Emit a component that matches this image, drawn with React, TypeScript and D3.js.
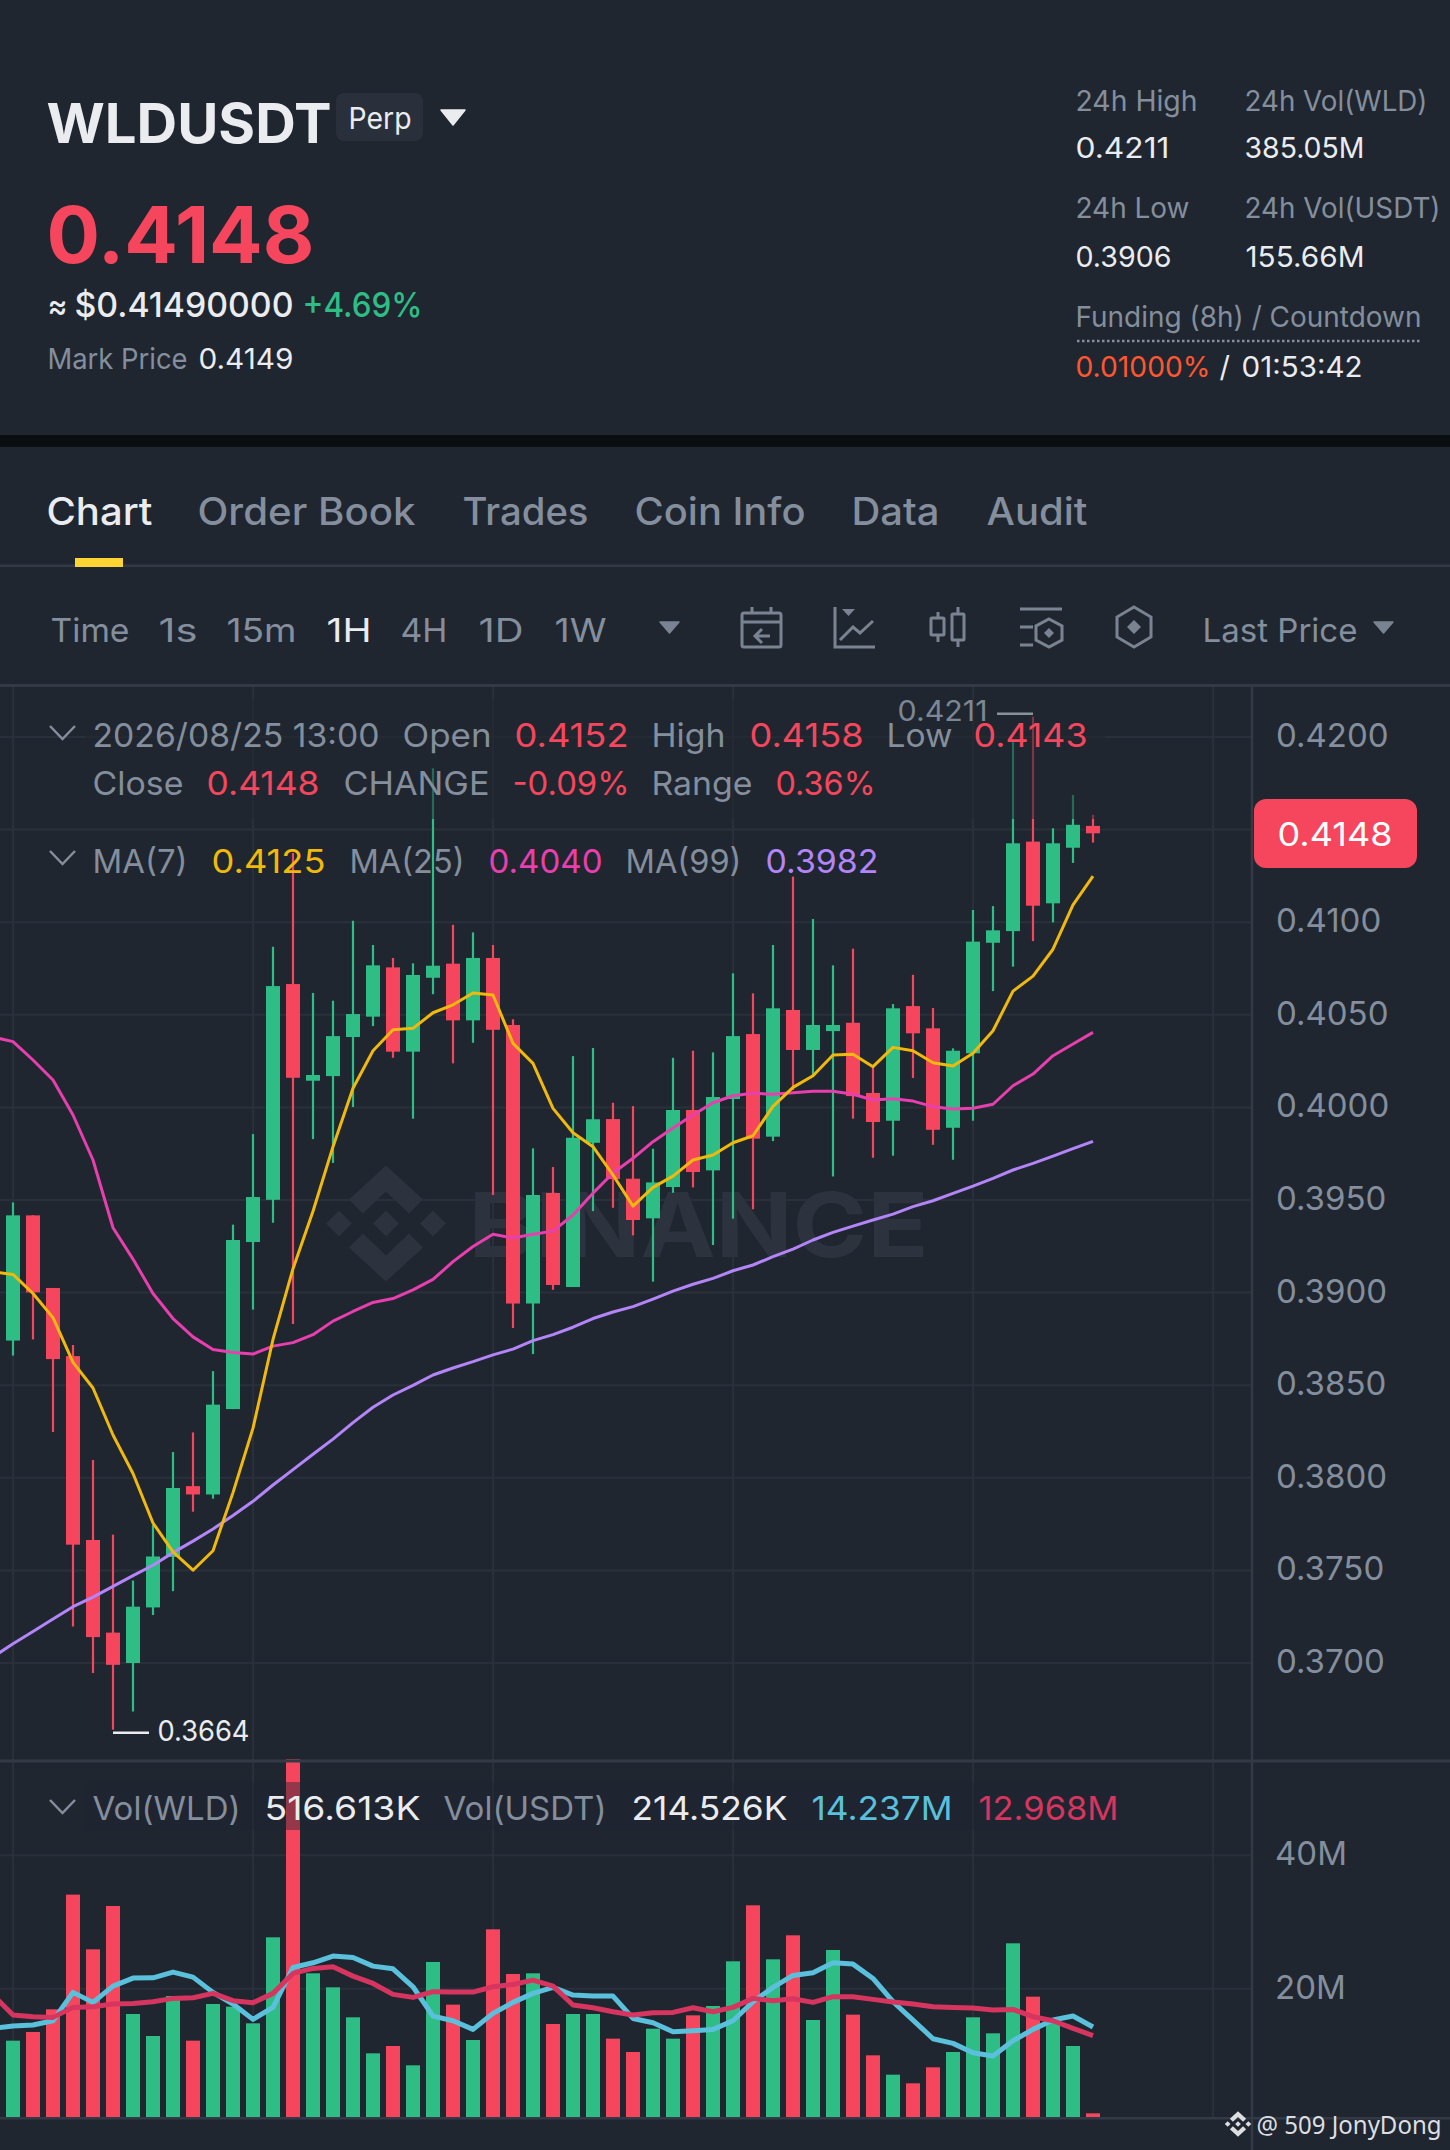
import React, { useEffect, useRef } from 'react';
import * as d3 from 'd3';

// 1h candles, oldest first
const opens = [0.38741, 0.39417, 0.39025, 0.38657, 0.37664, 0.37164, 0.37, 0.373, 0.37573, 0.37955, 0.3791, 0.38371, 0.39273, 0.39501, 0.40666, 0.40144, 0.40169, 0.4038, 0.4049, 0.40756, 0.40301, 0.407, 0.40776, 0.4047, 0.40807, 0.40445, 0.38941, 0.39538, 0.3903, 0.39809, 0.39937, 0.39615, 0.39401, 0.3957, 0.39986, 0.3966, 0.40045, 0.40396, 0.39842, 0.40526, 0.4031, 0.40412, 0.40457, 0.40078, 0.39928, 0.40547, 0.40427, 0.3989, 0.40292, 0.40889, 0.40952, 0.41435, 0.41102, 0.41402, 0.4152];
const highs = [0.39487, 0.39417, 0.39025, 0.38717, 0.38096, 0.37693, 0.37445, 0.37745, 0.38139, 0.38245, 0.38576, 0.39367, 0.39856, 0.40868, 0.41374, 0.40618, 0.40576, 0.41008, 0.40877, 0.40807, 0.40778, 0.41831, 0.40986, 0.40945, 0.40877, 0.40476, 0.39779, 0.39678, 0.40277, 0.40321, 0.40025, 0.40007, 0.39777, 0.40268, 0.40306, 0.40297, 0.40724, 0.40616, 0.40877, 0.41246, 0.41017, 0.40767, 0.40857, 0.4022, 0.40558, 0.40716, 0.40537, 0.40319, 0.41066, 0.41087, 0.41984, 0.4211, 0.41507, 0.41687, 0.4158];
const lows = [0.3866, 0.38747, 0.38247, 0.37197, 0.36946, 0.3664, 0.36738, 0.37259, 0.37388, 0.37817, 0.37887, 0.38371, 0.38908, 0.39377, 0.3883, 0.39829, 0.397, 0.40002, 0.40439, 0.40268, 0.39939, 0.40611, 0.40238, 0.40349, 0.39527, 0.38809, 0.38668, 0.39015, 0.3903, 0.3944, 0.39458, 0.39309, 0.39059, 0.39539, 0.39568, 0.39257, 0.39399, 0.3945, 0.39818, 0.40094, 0.40166, 0.39627, 0.39939, 0.39728, 0.39739, 0.40159, 0.39798, 0.39717, 0.39928, 0.40628, 0.4076, 0.40898, 0.40999, 0.4132, 0.4143];
const closes = [0.39417, 0.39001, 0.38641, 0.37639, 0.3714, 0.3699, 0.37304, 0.37575, 0.37945, 0.3791, 0.38395, 0.39284, 0.39516, 0.40655, 0.4016, 0.40175, 0.40385, 0.40504, 0.40767, 0.40301, 0.40715, 0.40765, 0.4047, 0.40807, 0.40419, 0.38941, 0.39527, 0.39041, 0.39836, 0.39936, 0.39613, 0.39392, 0.39595, 0.39986, 0.39651, 0.40056, 0.40385, 0.39831, 0.40535, 0.4031, 0.40445, 0.40445, 0.40061, 0.39921, 0.40535, 0.404, 0.39879, 0.40306, 0.40895, 0.40956, 0.41426, 0.41089, 0.41426, 0.41526, 0.4148];

// the moving averages start one candle earlier, just off the left edge
const ma7 = [0.39113, 0.39098, 0.38995, 0.38865, 0.38623, 0.38485, 0.38231, 0.38023, 0.37756, 0.376, 0.37501, 0.37606, 0.3792, 0.38268, 0.38747, 0.39129, 0.39439, 0.39788, 0.40103, 0.40306, 0.40419, 0.40427, 0.40511, 0.40554, 0.40618, 0.40607, 0.40346, 0.40238, 0.39995, 0.39863, 0.39788, 0.39635, 0.39467, 0.39568, 0.39629, 0.39716, 0.39743, 0.39809, 0.39847, 0.40006, 0.40108, 0.40171, 0.40283, 0.40287, 0.4022, 0.40324, 0.40306, 0.40241, 0.40223, 0.40292, 0.40414, 0.40628, 0.40709, 0.40854, 0.41093, 0.41249];
const ma25 = [0.4038, 0.40355, 0.40256, 0.40148, 0.39959, 0.39716, 0.3935, 0.39181, 0.38995, 0.3886, 0.38761, 0.38693, 0.38677, 0.38668, 0.38711, 0.3873, 0.38773, 0.38846, 0.38898, 0.38947, 0.38968, 0.39015, 0.39071, 0.39167, 0.39249, 0.39315, 0.39295, 0.39315, 0.39332, 0.39419, 0.39537, 0.39646, 0.39725, 0.39815, 0.39889, 0.39959, 0.40025, 0.40063, 0.40076, 0.40071, 0.40079, 0.40087, 0.40087, 0.40071, 0.4004, 0.40047, 0.40034, 0.40004, 0.39991, 0.39995, 0.40017, 0.40117, 0.4018, 0.40279, 0.40342, 0.40405];
const ma99 = [0.37032, 0.37104, 0.3717, 0.37238, 0.37304, 0.37356, 0.37414, 0.37472, 0.37528, 0.37596, 0.37658, 0.37724, 0.37796, 0.37873, 0.37961, 0.38044, 0.38127, 0.38209, 0.38298, 0.38381, 0.38447, 0.38499, 0.38555, 0.38593, 0.38627, 0.38664, 0.38695, 0.38741, 0.38773, 0.38813, 0.3886, 0.38895, 0.38924, 0.38965, 0.39008, 0.39045, 0.39077, 0.39118, 0.39149, 0.39194, 0.39235, 0.39284, 0.39325, 0.39359, 0.39392, 0.39424, 0.39464, 0.39496, 0.39536, 0.39575, 0.39617, 0.39662, 0.39698, 0.39737, 0.39777, 0.39817];

// volume, millions
const volumes = [12.2, 13.5, 16.9, 34.1, 25.9, 32.4, 16.2, 12.9, 18.9, 12.2, 17.7, 17.3, 14.8, 27.7, 54.4, 22.3, 20.2, 15.7, 10.3, 11.4, 8.5, 24.0, 17.6, 12.3, 28.9, 22.2, 22.3, 14.7, 16.2, 16.2, 12.5, 10.5, 14.0, 12.5, 16.0, 17.4, 24.1, 32.5, 24.4, 28.0, 15.3, 25.8, 16.1, 10.0, 7.1, 5.8, 8.2, 10.5, 15.7, 13.3, 26.8, 18.8, 15.0, 11.4, 1.3];
const volMaFast = [14.04, 14.39, 14.54, 15.19, 19.44, 17.94, 20.38, 21.58, 21.63, 22.48, 21.73, 19.44, 17.69, 15.39, 17.19, 23.18, 23.88, 24.88, 24.68, 23.38, 22.98, 20.28, 15.88, 15.19, 13.89, 16.29, 17.94, 19.29, 20.19, 19.04, 18.89, 18.89, 15.53, 14.89, 13.54, 13.69, 13.89, 15.19, 18.04, 20.19, 21.98, 22.38, 23.88, 23.68, 21.53, 18.04, 15.29, 12.49, 11.79, 10.39, 9.89, 12.19, 13.89, 15.29, 15.89, 14.24];
const volMaSlow = [19.04, 16.04, 15.79, 15.69, 17.19, 17.29, 17.69, 17.79, 18.04, 18.54, 18.64, 19.29, 18.19, 17.89, 19.29, 22.28, 23.03, 23.28, 21.88, 20.78, 19.14, 18.69, 19.54, 19.49, 19.49, 20.28, 20.63, 21.28, 20.38, 17.54, 17.14, 16.54, 16.04, 16.39, 16.44, 17.14, 16.54, 17.19, 18.54, 18.19, 18.49, 17.94, 18.79, 18.79, 18.39, 17.99, 17.69, 17.29, 17.19, 17.09, 16.79, 16.89, 15.79, 15.19, 14.04, 12.97];

const priceTicks = [0.42, 0.41, 0.405, 0.4, 0.395, 0.39, 0.385, 0.38, 0.375, 0.37];
const priceGrid = [0.42, 0.415, 0.41, 0.405, 0.4, 0.395, 0.39, 0.385, 0.38, 0.375, 0.37];
const volTicks = [40, 20];
const timeGrid = [0, 12, 24, 36, 48, 60];

const tabs = ['Chart', 'Order Book', 'Trades', 'Coin Info', 'Data', 'Audit'];
const intervals = ['Time', '1s', '15m', '1H', '4H', '1D', '1W'];

const BG = '#1f2630';
const UP = '#2ebd85';
const DOWN = '#f6465d';
const GRAY = '#848e9c';
const WHITE = '#eaecef';
const GRID = '#29303b';
const RULE = '#333a46';
const ICON = '#7a8391';
const FONT = 'Inter, sans-serif';

export default function App() {
    const ref = useRef<SVGSVGElement | null>(null);
    useEffect(() => {
        const svg = d3.select(ref.current);
        svg.selectAll('*').remove();
        const width = 1450, height = 2150, axisX = 1252, paneTop = 1761, paneBottom = 2117;

        const x = d3.scaleLinear().domain([0, 54]).range([13, 1093]);
        const y = d3.scaleLinear().domain([0.42, 0.37]).range([737, 1663]);
        const yVol = d3.scaleLinear().domain([0, 40]).range([2122, 1855.3]);

        // w is the measured ink width, side bearings are added on top of it
        const text = (tx: number, ty: number, str: string, size: number, fill: string, w?: number, weight = 400, anchor = 'start') => {
            const t = svg.append('text').attr('x', anchor === 'start' ? tx - 1.5 : tx).attr('y', ty).attr('font-size', size)
                .attr('font-weight', weight).attr('fill', fill).attr('text-anchor', anchor).text(str);
            if (w) t.attr('textLength', w + 3).attr('lengthAdjust', 'spacingAndGlyphs');
            return t;
        };
        const tri = (x0: number, x1: number, y0: number, y1: number, fill: string) => {
            svg.append('path').attr('d', `M${x0},${y0}L${x1},${y0}L${(x0 + x1) / 2},${y1}Z`)
                .attr('fill', fill).attr('stroke', fill).attr('stroke-width', 1.5).attr('stroke-linejoin', 'round');
        };
        const chevron = (cy: number) => {
            svg.append('path').attr('d', `M50,${cy - 6}L62.5,${cy + 7}L75,${cy - 6}`)
                .attr('fill', 'none').attr('stroke', GRAY).attr('stroke-width', 2.5);
        };
        const logo = (parent: any, cx: number, cy: number, k: number, fill: string) => {
            const g = parent.append('g').attr('transform', `translate(${cx},${cy}) scale(${k})`).attr('fill', fill);
            g.append('path').attr('d', 'M0,-58L37,-24L23,-10L0,-32L-23,-10L-37,-24Z');
            g.append('path').attr('d', 'M0,58L37,24L23,10L0,32L-23,10L-37,24Z');
            g.append('path').attr('d', 'M0,-13L13,0L0,13L-13,0Z');
            g.append('path').attr('d', 'M-47,-13L-34,0L-47,13L-60,0Z');
            g.append('path').attr('d', 'M47,-13L60,0L47,13L34,0Z');
        };

        svg.attr('viewBox', `0 0 ${width} ${height}`).attr('font-family', FONT);
        svg.append('rect').attr('width', width).attr('height', height).attr('fill', BG);
        svg.append('rect').attr('y', 435).attr('width', width).attr('height', 12).attr('fill', '#0b0e11');

        // header left
        text(48, 143, 'WLDUSDT', 55, WHITE, 282, 700);
        svg.append('rect').attr('x', 336).attr('y', 93).attr('width', 87).attr('height', 48).attr('rx', 8).attr('fill', '#2a303b');
        text(350, 129, 'Perp', 30, WHITE, 60);
        tri(441, 465, 110, 125, WHITE);
        text(48, 263, '0.4148', 79, DOWN, 265, 700);
        text(49, 317, '≈', 33, WHITE, 17, 500);
        text(76, 317, '$0.41490000', 34, WHITE, 216, 500);
        text(304, 317, '+4.69%', 34, UP, 117, 500);
        text(49, 369, 'Mark Price', 29, GRAY, 137);
        text(200, 369, '0.4149', 29, WHITE, 92);

        // header right
        text(1077, 111, '24h High', 29, GRAY, 119);
        text(1246, 111, '24h Vol(WLD)', 29, GRAY, 180);
        text(1077, 158, '0.4211', 29, WHITE, 91);
        text(1246, 158, '385.05M', 29, WHITE, 117);
        text(1077, 218, '24h Low', 29, GRAY, 111);
        text(1246, 218, '24h Vol(USDT)', 29, GRAY, 193);
        text(1077, 267, '0.3906', 29, WHITE, 93);
        text(1247, 267, '155.66M', 29, WHITE, 116);
        text(1077, 327, 'Funding (8h) / Countdown', 29, GRAY, 343);
        svg.append('line').attr('x1', 1077).attr('x2', 1422).attr('y1', 341).attr('y2', 341)
            .attr('stroke', GRAY).attr('stroke-width', 2.5).attr('stroke-dasharray', '2.5 2.5');
        text(1077, 377, '0.01000%', 29, '#ff5630', 132);
        text(1221, 377, '/', 29, WHITE);
        text(1243, 377, '01:53:42', 29, WHITE, 118);

        // tabs and toolbar
        const tabX = [48, 199, 464, 636, 853, 988];
        const tabW = [103, 215, 123, 168, 85, 98];
        tabs.forEach((d, i) => text(tabX[i], 525, d, 38, i === 0 ? WHITE : GRAY, tabW[i], 500));
        svg.append('rect').attr('y', 564.5).attr('width', width).attr('height', 2.5).attr('fill', RULE);
        svg.append('rect').attr('x', 75).attr('y', 558).attr('width', 48).attr('height', 9).attr('fill', '#fcd535');
        svg.append('rect').attr('y', 684).attr('width', width).attr('height', 3).attr('fill', RULE);

        const intX = [52, 160, 228, 328, 402, 480, 556];
        const intW = [76, 36, 67, 42, 44, 42, 49];
        intervals.forEach((d, i) => text(intX[i], 642, d, 33, d === '1H' ? WHITE : GRAY, intW[i]));
        tri(660, 679, 622, 633, ICON);
        text(1204, 642, 'Last Price', 33, GRAY, 152);
        tri(1374, 1393, 622, 633, ICON);

        const icons = svg.append('g').attr('fill', 'none').attr('stroke', ICON).attr('stroke-width', 3);
        icons.append('rect').attr('x', 742).attr('y', 613).attr('width', 39).attr('height', 34).attr('rx', 2);
        icons.append('path').attr('d', 'M742,622H781M752,607V613M771,607V613M770,636H755M762,629L755,636L762,643');
        icons.append('path').attr('d', 'M835,607V647H875M840,640L853,627L860,633L873,621');
        icons.append('path').attr('d', 'M842,609H855L848.5,616Z').attr('fill', ICON).attr('stroke', 'none');
        icons.append('rect').attr('x', 931).attr('y', 618).attr('width', 13).attr('height', 17).attr('rx', 1);
        icons.append('rect').attr('x', 952).attr('y', 614).attr('width', 12).attr('height', 26).attr('rx', 1);
        icons.append('path').attr('d', 'M938,612V618M938,635V642M958,607V614M958,640V647');
        icons.append('path').attr('d', 'M1020,609H1062M1020,627H1033M1020,645H1033M1049,619L1062,626V640L1049,647L1036,640V626Z');
        icons.append('path').attr('d', 'M1049,628L1054,633L1049,638L1044,633Z').attr('fill', ICON).attr('stroke', 'none');
        icons.append('path').attr('d', 'M1134,607L1151,617V637L1134,647L1117,637V617Z');
        icons.append('path').attr('d', 'M1134,620L1141,627L1134,634L1127,627Z').attr('fill', ICON).attr('stroke', 'none');

        // grid
        const grid = svg.append('g').attr('stroke', GRID).attr('stroke-width', 2);
        grid.selectAll('line.t').data(timeGrid).join('line').attr('class', 't')
            .attr('x1', d => x(d)).attr('x2', d => x(d)).attr('y1', 687).attr('y2', paneBottom);
        grid.selectAll('line.p').data(priceGrid).join('line').attr('class', 'p')
            .attr('x1', 0).attr('x2', axisX).attr('y1', d => y(d)).attr('y2', d => y(d));
        grid.selectAll('line.v').data(volTicks).join('line').attr('class', 'v')
            .attr('x1', 0).attr('x2', axisX).attr('y1', d => yVol(d)).attr('y2', d => yVol(d));

        // watermark
        logo(svg, 386, 1223.5, 1, '#2c333e');
        text(470, 1257, 'BINANCE', 90, '#2c333e', 457, 700);

        // volume bars
        const isUp = (i: number) => closes[i] >= opens[i];
        svg.append('g').selectAll('rect').data(volumes).join('rect')
            .attr('x', (d, i) => x(i) - 7).attr('width', 14)
            .attr('y', d => yVol(d)).attr('height', d => paneBottom - yVol(d))
            .attr('fill', (d, i) => (isUp(i) ? UP : DOWN));

        // candles
        const idx = d3.range(opens.length);
        const candles = svg.append('g');
        candles.selectAll('line').data(idx).join('line')
            .attr('x1', i => x(i)).attr('x2', i => x(i))
            .attr('y1', i => y(highs[i])).attr('y2', i => y(lows[i]))
            .attr('stroke', i => (isUp(i) ? UP : DOWN)).attr('stroke-width', 2.2);
        candles.selectAll('rect').data(idx).join('rect')
            .attr('x', i => x(i) - 7).attr('width', 14)
            .attr('y', i => y(Math.max(opens[i], closes[i])))
            .attr('height', i => Math.max(1, Math.abs(y(opens[i]) - y(closes[i]))))
            .attr('fill', i => (isUp(i) ? UP : DOWN));

        // moving averages, index -1 is the off-screen point
        const priceLine = d3.line<number>().x((d, i) => x(i - 1)).y(d => y(d));
        const volLine = d3.line<number>().x((d, i) => x(i - 1)).y(d => yVol(d));
        const drawLine = (path: string | null, color: string, w: number) => {
            svg.append('path').attr('d', path).attr('fill', 'none').attr('stroke', color)
                .attr('stroke-width', w).attr('stroke-linejoin', 'round');
        };
        drawLine(priceLine(ma99), '#b385f8', 3);
        drawLine(priceLine(ma25), '#e83fae', 3);
        drawLine(priceLine(ma7), '#f0b90b', 3);
        drawLine(volLine(volMaFast), '#5ac0dc', 5);
        drawLine(volLine(volMaSlow), '#d6355f', 5);

        // low marker
        svg.append('line').attr('x1', x(5)).attr('x2', x(5) + 36).attr('y1', y(0.3664) + 3).attr('y2', y(0.3664) + 3)
            .attr('stroke', WHITE).attr('stroke-width', 2.5);
        text(159, 1741, '0.3664', 29, WHITE, 89);

        // legend backdrops
        svg.append('rect').attr('x', 85).attr('y', 700).attr('width', 1020).attr('height', 119).attr('fill', BG).attr('opacity', 0.55);
        svg.append('rect').attr('x', 85).attr('y', 1782).attr('width', 1035).attr('height', 48).attr('fill', BG).attr('opacity', 0.45);

        // high marker sits in the legend band
        text(899, 721, '0.4211', 29, '#7d8693', 87);
        svg.append('line').attr('x1', x(51)).attr('x2', x(51) - 36).attr('y1', y(0.4211) - 3).attr('y2', y(0.4211) - 3)
            .attr('stroke', '#8b9099').attr('stroke-width', 2.5);

        // pane rules
        svg.append('rect').attr('y', paneTop - 1.5).attr('width', width).attr('height', 3).attr('fill', RULE);
        svg.append('rect').attr('y', paneBottom).attr('width', width).attr('height', 2.5).attr('fill', RULE);
        svg.append('rect').attr('x', axisX - 1.25).attr('y', 687).attr('width', 2.5).attr('height', height - 687).attr('fill', RULE);

        // legend text
        chevron(732);
        text(94, 747, '2026/08/25 13:00', 33, GRAY, 284);
        text(404, 747, 'Open', 33, GRAY, 86);
        text(516, 747, '0.4152', 33, DOWN, 111);
        text(653, 747, 'High', 33, GRAY, 71);
        text(751, 747, '0.4158', 33, DOWN, 111);
        text(888, 747, 'Low', 33, GRAY, 63);
        text(975, 747, '0.4143', 33, DOWN, 111);
        text(94, 795, 'Close', 33, GRAY, 88);
        text(208, 795, '0.4148', 33, DOWN, 110);
        text(345, 795, 'CHANGE', 33, GRAY, 143);
        text(514, 795, '-0.09%', 33, DOWN, 114);
        text(653, 795, 'Range', 33, GRAY, 98);
        text(777, 795, '0.36%', 33, DOWN, 97);
        chevron(857);
        text(94, 873, 'MA(7)', 33, GRAY, 92);
        text(213, 873, '0.4125', 33, '#f0b90b', 111);
        text(351, 873, 'MA(25)', 33, GRAY, 112);
        text(490, 873, '0.4040', 33, '#e83fae', 111);
        text(627, 873, 'MA(99)', 33, GRAY, 113);
        text(767, 873, '0.3982', 33, '#b385f8', 110);

        chevron(1806);
        text(94, 1820, 'Vol(WLD)', 33, GRAY, 145);
        text(266, 1820, '516.613K', 33, WHITE, 153);
        text(445, 1820, 'Vol(USDT)', 33, GRAY, 160);
        text(633, 1820, '214.526K', 33, WHITE, 153);
        text(813, 1820, '14.237M', 33, '#5ac0dc', 138);
        text(980, 1820, '12.968M', 33, '#d6355f', 137);

        // price and volume axes
        const priceAxis = d3.axisRight(y).tickValues(priceTicks).tickSize(0).tickPadding(24).tickFormat(d => (d as number).toFixed(4));
        const volAxis = d3.axisRight(yVol).tickValues(volTicks).tickSize(0).tickPadding(23).tickFormat(d => `${d}M`);
        [svg.append('g').call(priceAxis as any), svg.append('g').call(volAxis as any)].forEach(g => {
            g.attr('transform', `translate(${axisX},-1)`).attr('font-family', FONT);
            g.select('.domain').remove();
            g.selectAll('text').attr('font-size', 33).attr('fill', GRAY);
        });

        // last price tag
        svg.append('rect').attr('x', 1254).attr('y', 799).attr('width', 163).attr('height', 69).attr('rx', 12).attr('fill', DOWN);
        text(1335, 846, closes[closes.length - 1].toFixed(4), 33, '#ffffff', 112, 400, 'middle');

        // credit
        logo(svg, 1238, 2124, 0.22, '#dcdee1');
        text(1258, 2134, '@ 509 JonyDong', 26, '#dcdee1', 182).attr('font-family', '"Noto Sans", sans-serif');
    }, []);
    return <svg ref={ref} width={1450} height={2150} style={{ position: 'absolute', left: 0, top: 0 }} />;
}
